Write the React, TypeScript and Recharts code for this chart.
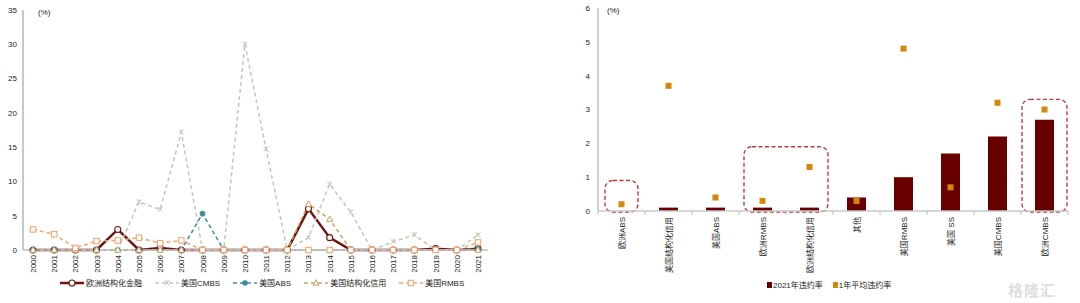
import React from "react";
import {
  Bar,
  ComposedChart,
  Line,
  LineChart,
  ReferenceArea,
  XAxis,
  YAxis
} from "recharts";

const years = [
  "2000", "2001", "2002", "2003", "2004", "2005", "2006", "2007", "2008", "2009", "2010",
  "2011", "2012", "2013", "2014", "2015", "2016", "2017", "2018", "2019", "2020", "2021"
];
const euroSF = [0, 0, 0, 0, 3.0, 0, 0.3, 0, 0, 0, 0, 0, 0, 6.0, 1.8, 0, 0, 0, 0, 0.2, 0, 0.2];
const usCMBS = [0, 0, 0, 0, 0, 7.0, 5.9, 17.2, 0, 0, 30.0, 14.7, 0, 1.8, 9.6, 5.5, 0, 1.2, 2.2, 0, 0, 2.2];
const usABS = [0, 0, 0, 0, 0, 0, 0, 0, 5.3, 0, 0, 0, 0, 0, 0, 0, 0, 0, 0, 0, 0, 0.2];
const usSC = [0, 0, 0, 0, 0, 0, 0, 0, 0, 0, 0, 0, 0, 6.7, 4.5, 0, 0, 0, 0, 0, 0, 0];
const usRMBS = [3.0, 2.3, 0.3, 1.3, 1.4, 1.8, 1.0, 1.4, 0, 0, 0, 0, 0, 0, 0, 0, 0, 0, 0, 0, 0, 1.1];
const leftTicks = [0, 5, 10, 15, 20, 25, 30, 35];

const sectors = [
  "欧洲ABS", "美国结构化信用", "美国ABS", "欧洲RMBS", "欧洲结构化信用",
  "其他", "美国RMBS", "美国 SS", "美国CMBS", "欧洲CMBS"
];
const rate2021 = [0, 0.1, 0.1, 0.1, 0.1, 0.4, 1.0, 1.7, 2.2, 2.7];
const avg1y = [0.2, 3.7, 0.4, 0.3, 1.3, 0.3, 4.8, 0.7, 3.2, 3.0];
const rightTicks = [0, 1, 2, 3, 4, 5, 6];

// dashed highlight boxes on the right chart
const highlights = [
  { from: "欧洲ABS", to: "欧洲ABS", top: 0.9, inset: 7 },
  { from: "欧洲RMBS", to: "欧洲结构化信用", top: 1.9, inset: 5 },
  { from: "欧洲CMBS", to: "欧洲CMBS", top: 3.3, inset: 1 }
];

const FONT = "'Liberation Sans', 'Noto Sans CJK SC', sans-serif";

type Marker = "circle" | "cross" | "dot" | "triangle" | "square";

const series: Array<{
  key: string;
  name: string;
  values: number[];
  color: string;
  width: number;
  dash?: string;
  marker: Marker;
}> = [
  { key: "euroSF", name: "欧洲结构化金融", values: euroSF, color: "#721212", width: 2.5, marker: "circle" },
  { key: "usCMBS", name: "美国CMBS", values: usCMBS, color: "#c6c6b6", width: 1.5, dash: "4 3", marker: "cross" },
  { key: "usABS", name: "美国ABS", values: usABS, color: "#3f8d9e", width: 1.5, dash: "4 3", marker: "dot" },
  { key: "usSC", name: "美国结构化信用", values: usSC, color: "#c9a25c", width: 1.5, dash: "4 3", marker: "triangle" },
  { key: "usRMBS", name: "美国RMBS", values: usRMBS, color: "#f1a674", width: 1.5, dash: "4 3", marker: "square" }
];

const lineData = years.map((year, i) => {
  const row: Record<string, number | string> = { year };
  series.forEach(s => {
    row[s.key] = s.values[i];
  });
  return row;
});

const barData = sectors.map((name, i) => ({
  name,
  rate2021: rate2021[i],
  avg1y: avg1y[i]
}));

function markerShape(kind: Marker, cx: number, cy: number, color: string, key?: string) {
  switch (kind) {
    case "circle":
      return <circle key={key} cx={cx} cy={cy} r={3} fill="#fff" stroke={color} strokeWidth={1.1} />;
    case "cross":
      return (
        <g key={key} stroke={color} strokeWidth={1}>
          <line x1={cx - 2.5} y1={cy - 2.5} x2={cx + 2.5} y2={cy + 2.5} />
          <line x1={cx - 2.5} y1={cy + 2.5} x2={cx + 2.5} y2={cy - 2.5} />
          <line x1={cx} y1={cy - 3} x2={cx} y2={cy + 1} />
        </g>
      );
    case "dot":
      return <circle key={key} cx={cx} cy={cy} r={2.8} fill={color} />;
    case "triangle":
      return (
        <path
          key={key}
          d={`M${cx},${cy - 3.3} L${cx + 3},${cy + 2.2} L${cx - 3},${cy + 2.2} Z`}
          fill="#fff"
          stroke={color}
          strokeWidth={1}
        />
      );
    default:
      return (
        <rect key={key} x={cx - 2.7} y={cy - 2.7} width={5.4} height={5.4} fill="#fff" stroke={color} strokeWidth={1.1} />
      );
  }
}

const YearTick = (props: any) => {
  const { x, y, payload } = props;
  return (
    <g transform={`translate(${x},${y})`}>
      <text transform="rotate(-90)" x={0} y={3} textAnchor="end" fontSize={8} fill="#222" fontFamily={FONT}>
        {payload.value}
      </text>
    </g>
  );
};

const SectorTick = (props: any) => {
  const { x, y, payload, index } = props;
  const band = 47;
  return (
    <g>
      <line x1={x - band / 2} y1={y - 6} x2={x - band / 2} y2={y - 2} stroke="#bfbfbf" />
      {index === sectors.length - 1 && (
        <line x1={x + band / 2} y1={y - 6} x2={x + band / 2} y2={y - 2} stroke="#bfbfbf" />
      )}
      <g transform={`translate(${x},${y})`}>
        <text transform="rotate(-90)" x={0} y={3} textAnchor="end" fontSize={8} fill="#222" fontFamily={FONT}>
          {payload.value}
        </text>
      </g>
    </g>
  );
};

const DashedBox = (props: any) => {
  const { x, y, width, height, inset } = props;
  return (
    <rect
      x={x + inset}
      y={y}
      width={width - inset * 2}
      height={height + 1}
      rx={8}
      ry={8}
      fill="none"
      stroke="#c4383c"
      strokeWidth={1.4}
      strokeDasharray="4 2.5"
    />
  );
};

const SquareDot = (props: any) => {
  const { cx, cy, index } = props;
  if (cx == null || cy == null) return <g key={`sq-${index}`} />;
  return <rect key={`sq-${index}`} x={cx - 3} y={cy - 3} width={6} height={6} fill="#d4880a" />;
};

export default function App() {
  return (
    <div
      style={{
        position: "absolute",
        left: 0,
        top: 0,
        width: 1080,
        height: 303,
        background: "#fff",
        fontFamily: FONT,
        overflow: "hidden"
      }}
    >
      <div style={{ position: "absolute", left: 0, top: 0 }}>
        <LineChart width={520} height={303} data={lineData} margin={{ top: 10, right: 32, bottom: 0, left: 0 }}>
          <XAxis
            dataKey="year"
            interval={0}
            padding={{ left: 10, right: 10 }}
            height={53}
            tick={<YearTick />}
            tickSize={3}
            tickMargin={2}
            axisLine={{ stroke: "#bfbfbf", strokeWidth: 1.5 }}
            tickLine={{ stroke: "#bfbfbf" }}
          />
          <YAxis
            width={23}
            domain={[0, 35]}
            ticks={leftTicks}
            interval={0}
            tickSize={0}
            tickMargin={6}
            tick={{ fontSize: 8, fill: "#222", fontFamily: FONT }}
            axisLine={{ stroke: "#c8c8c8", strokeWidth: 2 }}
            tickLine={false}
          />
          {series.map(s => (
            <Line
              key={s.key}
              dataKey={s.key}
              name={s.name}
              type="linear"
              stroke={s.color}
              strokeWidth={s.width}
              strokeDasharray={s.dash}
              isAnimationActive={false}
              activeDot={false}
              dot={(p: any) => markerShape(s.marker, p.cx, p.cy, s.color, `${s.key}-${p.index}`)}
            />
          ))}
        </LineChart>
      </div>

      <div style={{ position: "absolute", left: 540, top: 0 }}>
        <ComposedChart width={540} height={303} data={barData} margin={{ top: 8, right: 12, bottom: 0, left: 0 }}>
          <XAxis
            dataKey="name"
            interval={0}
            height={92}
            tick={<SectorTick />}
            tickSize={0}
            tickMargin={6}
            axisLine={{ stroke: "#c8c8c8", strokeWidth: 1.5 }}
            tickLine={false}
          />
          <YAxis
            width={58}
            domain={[0, 6]}
            ticks={rightTicks}
            interval={0}
            tickSize={0}
            tickMargin={8}
            tick={{ fontSize: 8, fill: "#222", fontFamily: FONT }}
            axisLine={{ stroke: "#cfcfcf", strokeWidth: 2 }}
            tickLine={false}
          />
          <Bar dataKey="rate2021" name="2021年违约率" fill="#680000" barSize={19} isAnimationActive={false} />
          <Line
            dataKey="avg1y"
            name="1年平均违约率"
            stroke="none"
            isAnimationActive={false}
            activeDot={false}
            dot={<SquareDot />}
          />
          {highlights.map(h => (
            <ReferenceArea
              key={h.from}
              x1={h.from}
              x2={h.to}
              y1={0}
              y2={h.top}
              ifOverflow="visible"
              shape={(p: any) => <DashedBox {...p} inset={h.inset} />}
            />
          ))}
        </ComposedChart>
      </div>

      <div style={{ position: "absolute", left: 38, top: 8, fontSize: 8, color: "#222" }}>(%)</div>
      <div style={{ position: "absolute", left: 607, top: 6, fontSize: 8, color: "#222" }}>(%)</div>

      {/* left legend */}
      <div
        style={{
          position: "absolute",
          left: 60,
          top: 277,
          display: "flex",
          alignItems: "center",
          fontSize: 8,
          color: "#222",
          whiteSpace: "nowrap"
        }}
      >
        {series.map(s => (
          <div key={s.key} style={{ display: "flex", alignItems: "center", marginRight: 13 }}>
            <svg width={24} height={10} style={{ marginRight: 2 }}>
              <line x1={0} y1={5} x2={24} y2={5} stroke={s.color} strokeWidth={s.width} strokeDasharray={s.dash} />
              {markerShape(s.marker, 12, 5, s.color)}
            </svg>
            <span>{s.name}</span>
          </div>
        ))}
      </div>

      {/* right legend */}
      <div
        style={{
          position: "absolute",
          left: 767,
          top: 279,
          display: "flex",
          alignItems: "center",
          fontSize: 8,
          color: "#222",
          whiteSpace: "nowrap"
        }}
      >
        <span style={{ display: "inline-block", width: 5, height: 6, background: "#680000", marginRight: 1 }} />
        <span style={{ marginRight: 10 }}>2021年违约率</span>
        <span style={{ display: "inline-block", width: 5, height: 6, background: "#d4880a", marginRight: 1 }} />
        <span>1年平均违约率</span>
      </div>

      <div
        style={{
          position: "absolute",
          left: 1008,
          top: 279,
          fontSize: 15,
          color: "#dedede",
          fontWeight: 700,
          letterSpacing: 1
        }}
      >
        格隆汇
      </div>
    </div>
  );
}
